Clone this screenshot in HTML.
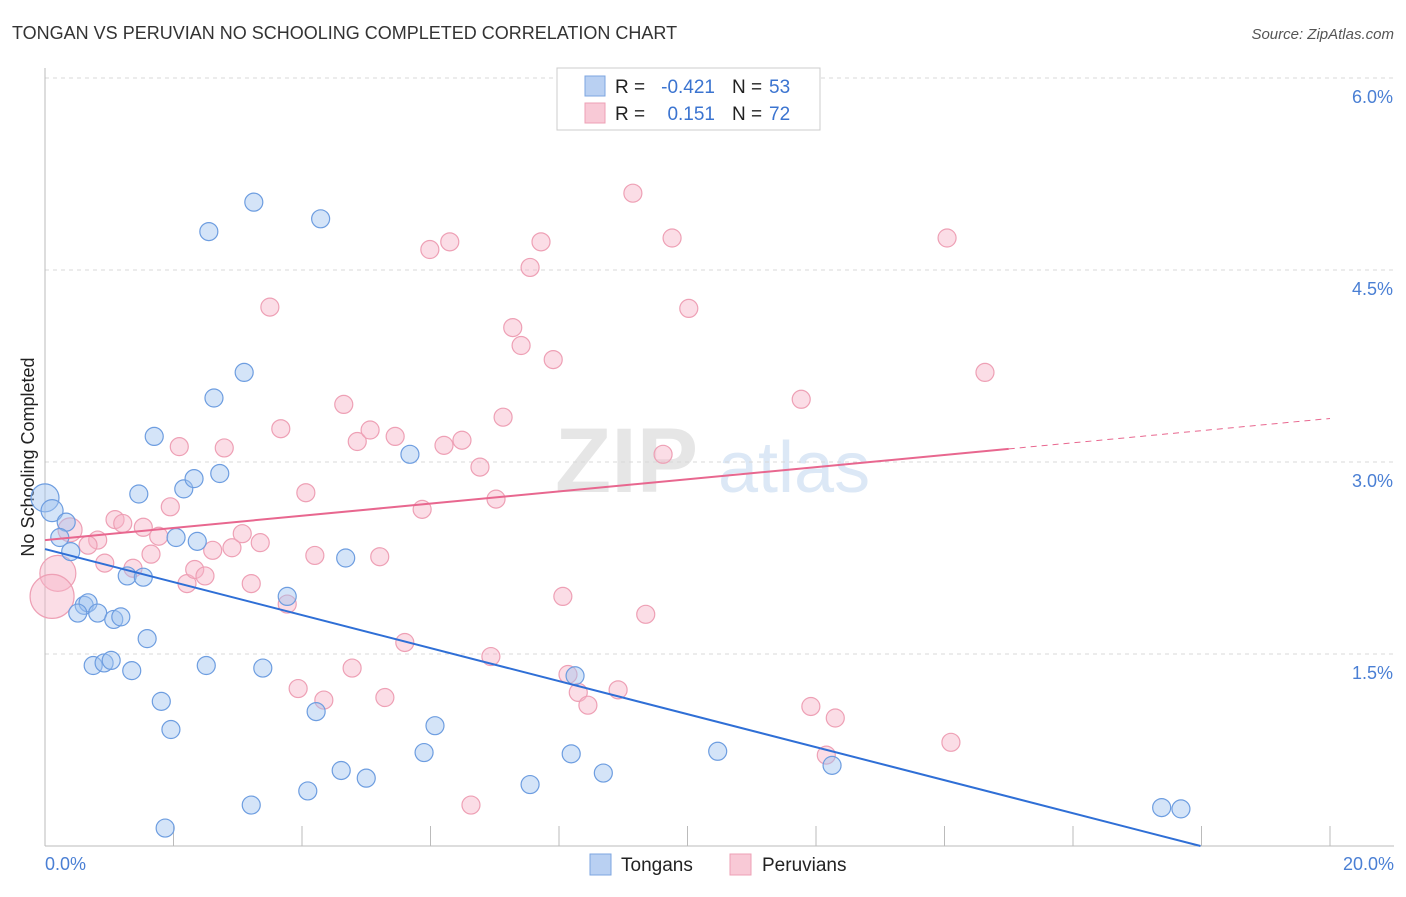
<!DOCTYPE html>
<html><head><meta charset="utf-8"><style>
body{margin:0;background:#fff;font-family:"Liberation Sans",sans-serif;}
svg text{font-family:"Liberation Sans",sans-serif;}
</style></head><body>
<svg width="1406" height="892" viewBox="0 0 1406 892" id="chart">
<text x="12" y="39" font-size="18" fill="#333">TONGAN VS PERUVIAN NO SCHOOLING COMPLETED CORRELATION CHART</text>
<text x="1394" y="39" font-size="15" fill="#555" text-anchor="end" font-style="italic">Source: ZipAtlas.com</text>
<text x="555" y="492" font-size="92" fill="#e6e6e6" font-family="Liberation Serif" font-weight="bold">ZIP</text>
<text x="718" y="492" font-size="72" fill="#dce8f6">atlas</text>
<g id="grid"></g>
<line x1="45" y1="68" x2="45" y2="846" stroke="#bbb"/>
<line x1="45" y1="846" x2="1394" y2="846" stroke="#bbb"/>
<text transform="translate(34,457) rotate(-90)" font-size="18" fill="#222" text-anchor="middle">No Schooling Completed</text>
<text x="45" y="870" font-size="18" fill="#4a7fd4">0.0%</text>
<text x="1394" y="870" font-size="18" fill="#4a7fd4" text-anchor="end">20.0%</text>
<g id="pts"></g>
<g id="lines"></g>
<g>
<rect x="557" y="68" width="263" height="62" fill="#fff" stroke="#ccc"/>
<rect x="585" y="76" width="20" height="20" fill="#b9d0f2" stroke="#7da6e0"/>
<rect x="585" y="103" width="20" height="20" fill="#f8c9d6" stroke="#eea0b5"/>
<text x="615" y="93" font-size="19" fill="#222">R =</text>
<text x="715" y="93" font-size="19" fill="#3b74d0" text-anchor="end">-0.421</text>
<text x="732" y="93" font-size="19" fill="#222">N =</text>
<text x="769" y="93" font-size="19" fill="#3b74d0">53</text>
<text x="615" y="120" font-size="19" fill="#222">R =</text>
<text x="715" y="120" font-size="19" fill="#3b74d0" text-anchor="end">0.151</text>
<text x="732" y="120" font-size="19" fill="#222">N =</text>
<text x="769" y="120" font-size="19" fill="#3b74d0">72</text>
</g>
<g>
<rect x="590" y="854" width="21" height="21" fill="#b9d0f2" stroke="#7da6e0"/>
<text x="621" y="871" font-size="19" fill="#222">Tongans</text>
<rect x="730" y="854" width="21" height="21" fill="#f8c9d6" stroke="#eea0b5"/>
<text x="762" y="871" font-size="19" fill="#222">Peruvians</text>
</g>
</svg>
<script>
const yTicks=[6.0,4.5,3.0,1.5];
const yTickLabels=["6.0%","4.5%","3.0%","1.5%"];
const xTicks=[0,2,4,6,8,10,12,14,16,18,20];
const tonganX=[0,0.11,0.33,0.23,0.4,0.61,0.67,0.51,0.82,1.07,1.18,1.28,1.53,1.59,0.75,0.92,1.03,1.35,1.81,1.96,1.87,1.46,1.70,2.16,2.32,2.72,2.04,2.37,2.63,3.10,2.55,3.25,4.29,2.51,3.39,3.77,4.22,4.68,5.68,6.07,5.90,4.61,5.00,4.09,3.21,7.55,8.19,8.25,8.69,10.47,12.25,17.38,17.68];
const tonganY=[2.72,2.62,2.53,2.41,2.30,1.88,1.90,1.82,1.82,1.77,1.79,2.11,2.10,1.62,1.41,1.43,1.45,1.37,1.13,0.91,0.14,2.75,3.20,2.79,2.87,2.91,2.41,2.38,3.50,3.70,4.80,5.03,4.90,1.41,1.39,1.95,1.05,2.25,3.06,0.94,0.73,0.59,0.53,0.43,0.32,0.48,0.72,1.33,0.57,0.74,0.63,0.30,0.29];
const tonganR=[14,11,9,9,9,9,9,9,9,9,9,9,9,9,9,9,9,9,9,9,9,9,9,9,9,9,9,9,9,9,9,9,9,9,9,9,9,9,9,9,9,9,9,9,9,9,9,9,9,9,9,9,9];
const peruX=[0.2,0.11,0.39,0.82,0.67,1.09,1.21,1.53,0.93,1.37,1.65,1.77,1.95,2.09,2.21,2.33,2.49,2.61,2.79,2.91,3.07,3.21,3.35,3.50,3.67,3.77,3.94,4.06,4.20,4.34,4.65,4.78,4.86,5.06,5.21,5.29,5.45,5.60,5.87,5.99,6.21,6.30,6.49,6.77,6.94,7.02,7.13,6.63,7.28,7.41,7.55,7.72,7.91,8.06,8.14,8.30,8.45,8.92,9.15,9.35,9.62,9.76,10.02,11.77,11.92,12.16,12.30,14.04,14.10,14.63];
const peruY=[2.13,1.95,2.47,2.39,2.35,2.55,2.52,2.49,2.21,2.17,2.28,2.42,2.65,3.12,2.05,2.16,2.11,2.31,3.11,2.33,2.44,2.05,2.37,4.21,3.26,1.89,1.23,2.76,2.27,1.14,3.45,1.39,3.16,3.25,2.26,1.16,3.20,1.59,2.63,4.66,3.13,4.72,3.17,2.96,1.48,2.71,3.35,0.32,4.05,3.91,4.52,4.72,3.80,1.95,1.34,1.20,1.10,1.22,5.10,1.81,3.06,4.75,4.20,3.49,1.09,0.71,1.00,4.75,0.81,3.70];
const peruR=[18,22,12,9,9,9,9,9,9,9,9,9,9,9,9,9,9,9,9,9,9,9,9,9,9,9,9,9,9,9,9,9,9,9,9,9,9,9,9,9,9,9,9,9,9,9,9,9,9,9,9,9,9,9,9,9,9,9,9,9,9,9,9,9,9,9,9,9,9,9];
const blueTrend=[2.32,-0.26];
const pinkTrend=[2.39,3.34];
const pinkSolidEnd=15.0;
const NS="http://www.w3.org/2000/svg";
function xs(v){return 45+v/20*1285;}
function ys(v){return 846-v/1.5*192;}
function mk(t,a,p){const e=document.createElementNS(NS,t);for(const k in a)e.setAttribute(k,a[k]);p.appendChild(e);return e;}
const grid=document.getElementById('grid');
yTicks.forEach((t,i)=>{
 const l=mk('line',{x1:45,x2:1394,y1:ys(t),y2:ys(t),stroke:'#d8d8d8','stroke-dasharray':'4,4'},grid);
 
 
 const tx=mk('text',{x:1393,y:ys(t)+25,'font-size':18,fill:'#4a7fd4','text-anchor':'end'},grid);
 tx.textContent=yTickLabels[i];
 
 
});
xTicks.forEach(t=>{
 const l=mk('line',{x1:xs(t),x2:xs(t),y1:826,y2:846,stroke:'#bbb'},grid);
 
 
});
const pts=document.getElementById('pts');
peruX.forEach((x,i)=>{
 const c=mk('circle',{cx:xs(x),cy:ys(peruY[i]),r:peruR[i],fill:'rgba(246,180,200,0.45)',stroke:'#eea0b5','stroke-width':1.2},pts);
 
 
});
tonganX.forEach((x,i)=>{
 const c=mk('circle',{cx:xs(x),cy:ys(tonganY[i]),r:tonganR[i],fill:'rgba(160,195,240,0.45)',stroke:'#6d9de0','stroke-width':1.2},pts);
 
 
});
const lines=document.getElementById('lines');
const bAt=v=>blueTrend[0]+(blueTrend[1]-blueTrend[0])*v/20;
const bEnd=Math.min(20,blueTrend[0]/(blueTrend[0]-blueTrend[1])*20);
const bl=mk('line',{x1:xs(0),y1:ys(bAt(0)),x2:xs(bEnd),y2:ys(bAt(bEnd)),stroke:'#2f6fd6','stroke-width':2},lines);


const pAt=v=>pinkTrend[0]+(pinkTrend[1]-pinkTrend[0])*v/20;
const pl=mk('line',{x1:xs(0),y1:ys(pAt(0)),x2:xs(pinkSolidEnd),y2:ys(pAt(pinkSolidEnd)),stroke:'#e8678f','stroke-width':2},lines);


const pd=mk('line',{x1:xs(pinkSolidEnd),y1:ys(pAt(pinkSolidEnd)),x2:xs(20),y2:ys(pAt(20)),stroke:'#e8678f','stroke-width':1,'stroke-dasharray':'6,5'},lines);


</script>
</body></html>
